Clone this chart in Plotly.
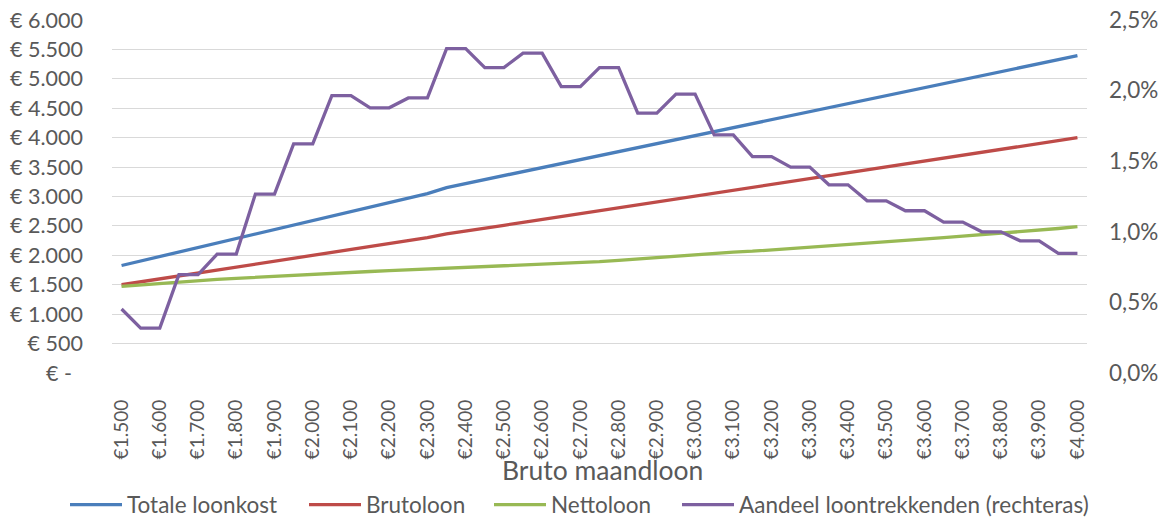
import plotly.graph_objects as go

# Categories: bruto maandloon (EUR)
bruto = [1500, 1550, 1600, 1650, 1700, 1750, 1800, 1850, 1900, 1950,
         2000, 2050, 2100, 2150, 2200, 2250, 2300, 2350, 2400, 2450,
         2500, 2550, 2600, 2650, 2700, 2750, 2800, 2850, 2900, 2950,
         3000, 3050, 3100, 3150, 3200, 3250, 3300, 3350, 3400, 3450,
         3500, 3550, 3600, 3650, 3700, 3750, 3800, 3850, 3900, 3950,
         4000]

totale_loonkost = [1827, 1903, 1980, 2056, 2133, 2209, 2285, 2362, 2438, 2515,
                   2591, 2667, 2744, 2820, 2897, 2973, 3049, 3152, 3220, 3288,
                   3356, 3424, 3492, 3559, 3627, 3695, 3763, 3831, 3899, 3967,
                   4035, 4103, 4171, 4238, 4306, 4374, 4442, 4510, 4578, 4646,
                   4714, 4782, 4850, 4917, 4985, 5053, 5121, 5189, 5257, 5325,
                   5393]

brutoloon = [1500, 1550, 1600, 1650, 1700, 1750, 1800, 1850, 1900, 1950,
             2000, 2050, 2100, 2150, 2200, 2250, 2300, 2365, 2410, 2460,
             2510, 2560, 2610, 2660, 2710, 2760, 2810, 2860, 2910, 2960,
             3008, 3058, 3108, 3158, 3208, 3256, 3306, 3356, 3406, 3454,
             3504, 3554, 3604, 3652, 3702, 3752, 3800, 3850, 3900, 3950,
             4000]

nettoloon = [1471, 1497, 1522, 1545, 1568, 1590, 1609, 1627, 1645, 1664,
             1682, 1697, 1711, 1725, 1739, 1752, 1766, 1778, 1790, 1801,
             1813, 1826, 1840, 1855, 1872, 1892, 1915, 1940, 1963, 1986,
             2009, 2032, 2055, 2070, 2092, 2113, 2134, 2158, 2182, 2206,
             2230, 2254, 2278, 2302, 2326, 2350, 2374, 2398, 2424, 2456,
             2489]

aandeel = [0.453, 0.318, 0.318, 0.696, 0.696, 0.842, 0.842, 1.267, 1.267, 1.623,
           1.623, 1.965, 1.965, 1.878, 1.878, 1.948, 1.948, 2.297, 2.297, 2.163,
           2.163, 2.265, 2.265, 2.028, 2.028, 2.163, 2.163, 1.840, 1.840, 1.975,
           1.975, 1.686, 1.686, 1.533, 1.533, 1.458, 1.458, 1.333, 1.333, 1.219,
           1.219, 1.149, 1.149, 1.069, 1.069, 1.000, 1.000, 0.936, 0.936, 0.847,
           0.847]

x_tickvals = [1500, 1600, 1700, 1800, 1900, 2000, 2100, 2200, 2300, 2400,
              2500, 2600, 2700, 2800, 2900, 3000, 3100, 3200, 3300, 3400,
              3500, 3600, 3700, 3800, 3900, 4000]
x_ticktext = ["€1.500", "€1.600", "€1.700", "€1.800", "€1.900", "€2.000",
              "€2.100", "€2.200", "€2.300", "€2.400", "€2.500", "€2.600",
              "€2.700", "€2.800", "€2.900", "€3.000", "€3.100", "€3.200",
              "€3.300", "€3.400", "€3.500", "€3.600", "€3.700", "€3.800",
              "€3.900", "€4.000"]

y_tickvals = [0, 500, 1000, 1500, 2000, 2500, 3000, 3500, 4000, 4500, 5000, 5500, 6000]
y_ticktext = ["€ -\u00a0\u00a0", "€ 500", "€ 1.000", "€ 1.500", "€ 2.000", "€ 2.500", "€ 3.000",
              "€ 3.500", "€ 4.000", "€ 4.500", "€ 5.000", "€ 5.500", "€ 6.000"]

y2_tickvals = [0, 0.5, 1.0, 1.5, 2.0, 2.5]
y2_ticktext = ["0,0%", "0,5%", "1,0%", "1,5%", "2,0%", "2,5%"]

series_names = ["Totale loonkost", "Brutoloon", "Nettoloon",
                "Aandeel loontrekkenden (rechteras)"]
series_colors = ["#4A7EBB", "#BE4B48", "#98B954", "#7D60A0"]

TXT = "#595959"
FONT = "Lato"
W, H = 1159, 510  # page body has an 8px margin
MT, MB = 12, 144.7
PLOT_H = H - MT - MB

fig = go.Figure()
fig.add_trace(go.Scatter(x=bruto, y=totale_loonkost, name=series_names[0], mode="lines",
                         line=dict(color=series_colors[0], width=3.3), legend="legend"))
fig.add_trace(go.Scatter(x=bruto, y=brutoloon, name=series_names[1], mode="lines",
                         line=dict(color=series_colors[1], width=3.3), legend="legend2"))
fig.add_trace(go.Scatter(x=bruto, y=nettoloon, name=series_names[2], mode="lines",
                         line=dict(color=series_colors[2], width=3.3), legend="legend3"))
fig.add_trace(go.Scatter(x=bruto, y=aandeel, name=series_names[3], mode="lines", yaxis="y2",
                         line=dict(color=series_colors[3], width=3.3), legend="legend4"))

legend_starts = [65, 304, 489, 677]  # left edge of each legend line sample (screen px)
legend_y = (H - 497) / H


def leg(px):
    return dict(orientation="h", xref="container", yref="container",
                x=(px - 8) / W, xanchor="left", y=legend_y, yanchor="middle",
                font=dict(family=FONT, size=22.5, color=TXT), itemwidth=52,
                bgcolor="rgba(0,0,0,0)", borderwidth=0)


fig.update_layout(
    width=W, height=H,
    margin=dict(l=104, r=80, t=MT, b=MB, autoexpand=False),
    paper_bgcolor="white", plot_bgcolor="white",
    font=dict(family=FONT, size=22.5, color=TXT),
    showlegend=True,
    legend=leg(legend_starts[0]),
    legend2=leg(legend_starts[1]),
    legend3=leg(legend_starts[2]),
    legend4=leg(legend_starts[3]),
    xaxis=dict(range=[1475, 4025], tickmode="array", tickvals=x_tickvals, ticktext=x_ticktext,
               tickangle=-90, showgrid=False, zeroline=False, showline=False, ticks="",
               ticklabelstandoff=22, automargin=False, tickfont=dict(size=19),
               ticklabeloverflow="allow"),
    yaxis=dict(range=[0, 6000], tickmode="array", tickvals=y_tickvals, ticktext=y_ticktext,
               showgrid=True, gridcolor="#D9D9D9", gridwidth=1.4, zeroline=False,
               showline=False, ticks="", ticklabelstandoff=28, automargin=False,
               tickfont=dict(size=21.5), ticklabeloverflow="allow"),
    yaxis2=dict(range=[0, 2.5], overlaying="y", side="right", tickmode="array",
                tickvals=y2_tickvals, ticktext=y2_ticktext, showgrid=False, zeroline=False,
                showline=False, ticks="", ticklabelstandoff=21, automargin=False,
                ticklabeloverflow="allow"),
    annotations=[dict(text="Bruto maandloon", xref="paper", yref="paper",
                      x=0.5, xshift=3, y=-(470 - 8 - (H - MB)) / PLOT_H,
                      xanchor="center", yanchor="middle",
                      showarrow=False, font=dict(family=FONT, size=26.5, color=TXT))],
)

fig.write_html("out.html")
